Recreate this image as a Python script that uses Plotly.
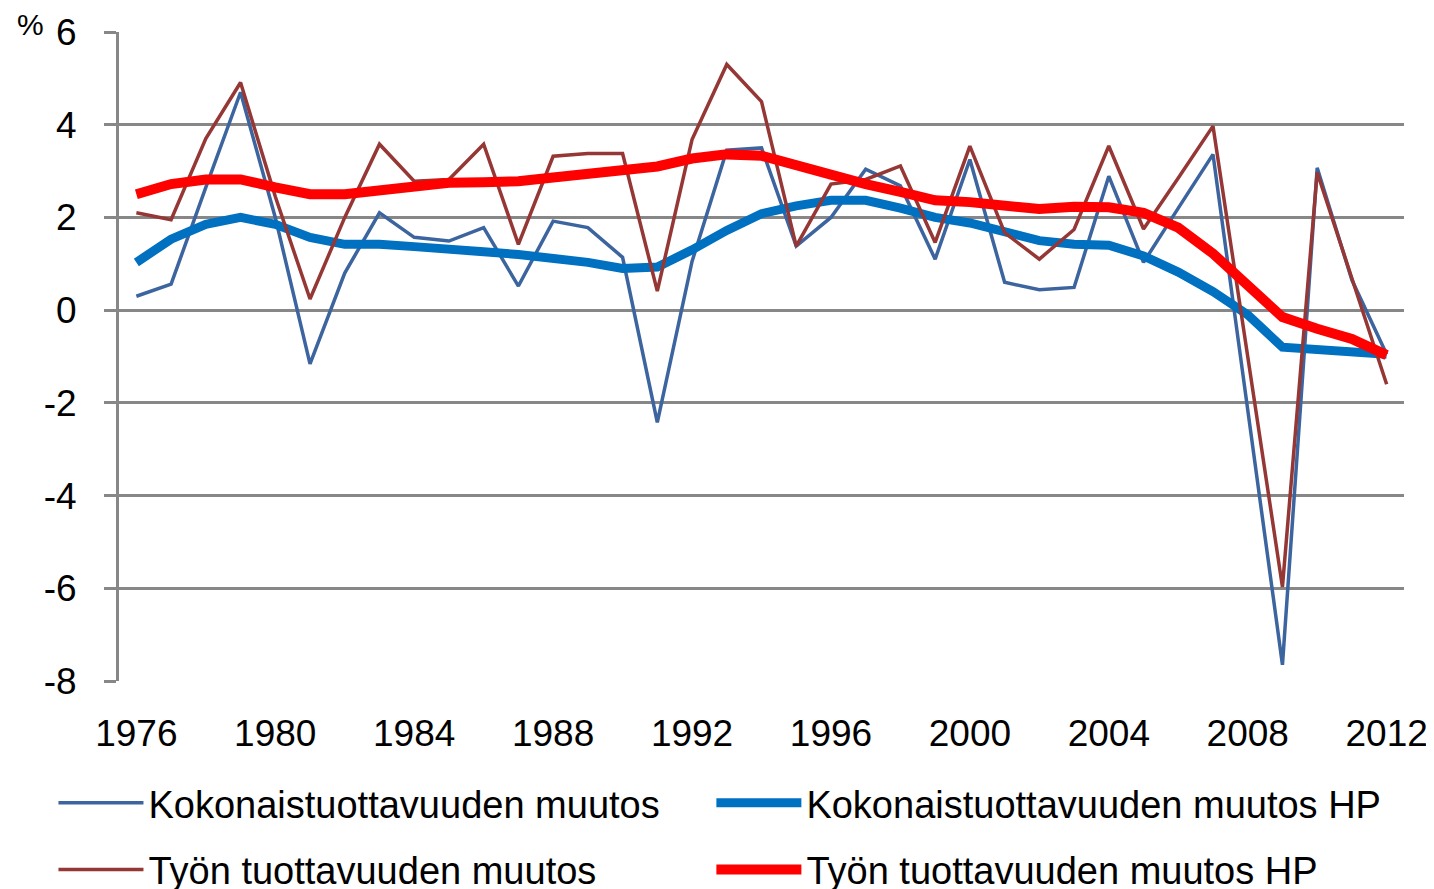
import plotly.graph_objects as go

years = list(range(1976, 2013))

# Kokonaistuottavuuden muutos (total factor productivity change), %
kok = [0.30, 0.56, 2.65, 4.70, 2.0, -1.16, 0.8, 2.1, 1.57, 1.49,
       1.78, 0.52, 1.92, 1.78, 1.14, -2.42, 1.05, 3.45, 3.5, 1.38,
       2.0, 3.04, 2.68, 1.1, 3.25, 0.6, 0.44, 0.49, 2.89, 1.03,
       2.2, 3.36, -2.15, -7.65, 3.07, 0.65, -0.95]
kok_hp = [1.03, 1.53, 1.85, 2.0, 1.85, 1.57, 1.42, 1.42, 1.37, 1.33,
          1.26, 1.2, 1.13, 1.03, 0.9, 0.93, 1.3, 1.72, 2.08, 2.25,
          2.37, 2.37, 2.2, 2.0, 1.88, 1.68, 1.5, 1.42, 1.4, 1.17,
          0.82, 0.4, -0.1, -0.8, -0.84, -0.88, -0.95]

# Työn tuottavuuden muutos (labour productivity change), %
tyo = [2.1, 1.95, 3.7, 4.91, 2.45, 0.24, 2.0, 3.58, 2.78, 2.82,
       3.58, 1.42, 3.32, 3.38, 3.38, 0.41, 3.68, 5.3, 4.5, 1.38,
       2.72, 2.82, 3.11, 1.46, 3.54, 1.67, 1.1, 1.74, 3.54, 1.75,
       2.85, 3.97, -1.0, -5.97, 2.97, 0.7, -1.6]
tyo_hp = [2.5, 2.72, 2.82, 2.82, 2.65, 2.5, 2.5, 2.57, 2.67, 2.75,
          2.76, 2.78, 2.86, 2.93, 3.0, 3.1, 3.27, 3.36, 3.33, 3.12,
          2.9, 2.72, 2.55, 2.37, 2.33, 2.25, 2.18, 2.23, 2.22, 2.1,
          1.78, 1.22, 0.55, -0.15, -0.4, -0.62, -0.97]

x_ticks = [1976, 1980, 1984, 1988, 1992, 1996, 2000, 2004, 2008, 2012]
y_ticks = [-8, -6, -4, -2, 0, 2, 4, 6]
y_labels = ["-8", "-6", "-4", "-2", "0", "2", "4", "6"]

font = "Arial, Liberation Sans, sans-serif"
grid = "#878787"

fig = go.Figure()
fig.add_trace(go.Scatter(x=years, y=kok, mode="lines", name="Kokonaistuottavuuden muutos",
                         line=dict(color="#3C649F", width=3.5), legend="legend"))
fig.add_trace(go.Scatter(x=years, y=kok_hp, mode="lines", name="Kokonaistuottavuuden muutos HP",
                         line=dict(color="#0070C0", width=9), legend="legend2"))
fig.add_trace(go.Scatter(x=years, y=tyo, mode="lines", name="Työn tuottavuuden muutos",
                         line=dict(color="#953735", width=3.5), legend="legend3"))
fig.add_trace(go.Scatter(x=years, y=tyo_hp, mode="lines", name="Työn tuottavuuden muutos HP",
                         line=dict(color="#FF0000", width=10), legend="legend4"))

# one legend per entry, placed in a 2 x 2 grid below the plot
legend_style = dict(orientation="h", xanchor="left", yanchor="middle",
                    font=dict(family=font, size=38, color="black"),
                    bgcolor="rgba(0,0,0,0)", itemwidth=85)
col1, col2 = -0.051, 0.461
row1, row2 = -0.188, -0.291

fig.update_layout(
    width=1434, height=889,
    margin=dict(l=111, r=38, t=24, b=216, autoexpand=False),
    plot_bgcolor="white", paper_bgcolor="white",
    font=dict(family=font, size=36, color="black"),
    showlegend=True,
    legend=dict(x=col1, y=row1, **legend_style),
    legend2=dict(x=col2, y=row1, **legend_style),
    legend3=dict(x=col1, y=row2, **legend_style),
    legend4=dict(x=col2, y=row2, **legend_style),
    xaxis=dict(range=[1975.5, 2012.5], tickvals=x_ticks, showgrid=False, zeroline=False,
               showline=False, ticks="outside", ticklen=20, tickcolor="rgba(0,0,0,0)",
               tickfont=dict(family=font, size=37, color="black")),
    yaxis=dict(range=[-8, 6], tickvals=y_ticks, ticktext=y_labels, showgrid=True,
               gridcolor=grid, gridwidth=3, zeroline=False, showline=True,
               linecolor=grid, linewidth=3, ticks="outside", ticklen=12,
               tickcolor=grid, tickwidth=3, ticklabelstandoff=20,
               tickfont=dict(family=font, size=37, color="black")),
    annotations=[dict(text="%", xref="paper", yref="paper", x=-0.069, y=1.012,
                      xanchor="center", yanchor="middle", showarrow=False,
                      font=dict(family=font, size=30, color="black"))],
)

fig.write_html("out.html")
